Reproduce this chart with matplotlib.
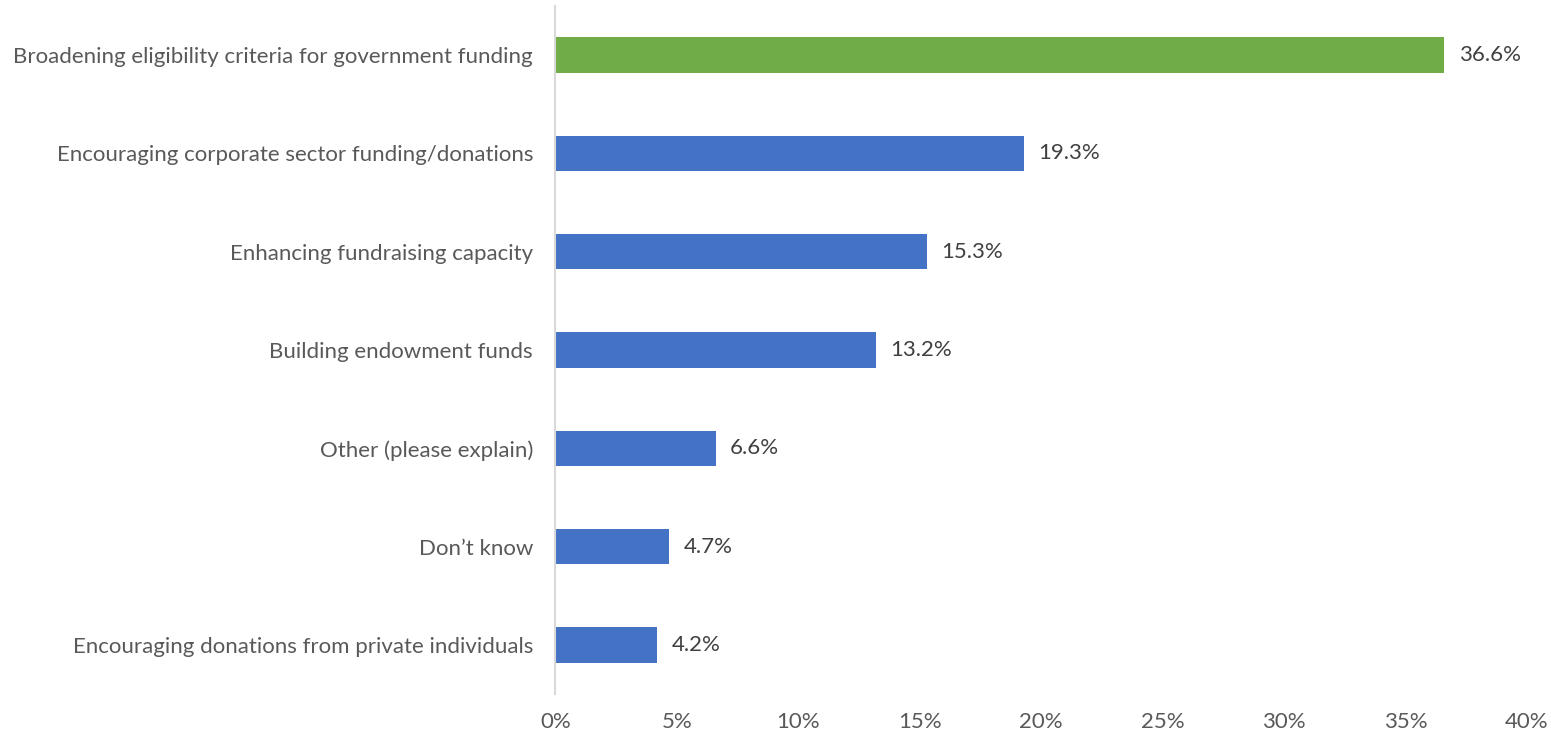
import matplotlib.pyplot as plt

# data, top to bottom as shown
categories = [
    "Broadening eligibility criteria for government funding",
    "Encouraging corporate sector funding/donations",
    "Enhancing fundraising capacity",
    "Building endowment funds",
    "Other (please explain)",
    "Don\u2019t know",
    "Encouraging donations from private individuals",
]
values = [36.6, 19.3, 15.3, 13.2, 6.6, 4.7, 4.2]
bar_colors = ["#70AD47"] + ["#4472C4"] * 6
xticks = [0, 5, 10, 15, 20, 25, 30, 35, 40]

plt.rcParams['font.family'] = ['Lato', 'DejaVu Sans']

fig = plt.figure(figsize=(15.51, 7.35), dpi=100)
ax = fig.add_axes([0.358, 0.0558, 0.6265, 0.936])

ypos = list(range(len(categories)))[::-1]
ax.barh(ypos, values, height=0.36, color=bar_colors)

for y, v in zip(ypos, values):
    ax.text(v + 0.6, y, f"{v:.1f}%", va='center', ha='left', fontsize=16, color='#404040')

ax.set_xlim(0, 40)
ax.set_ylim(-0.5, 6.5)
ax.set_yticks(ypos)
ax.set_yticklabels(categories, fontsize=16, color='#595959')
ax.set_xticks(xticks)
ax.set_xticklabels([f"{t}%" for t in xticks], fontsize=16, color='#595959')

for s in ['top', 'right', 'bottom']:
    ax.spines[s].set_visible(False)
ax.spines['left'].set_color('#D9D9D9')
ax.spines['left'].set_linewidth(1.5)
ax.tick_params(axis='both', length=0)
ax.tick_params(axis='y', pad=16)
ax.tick_params(axis='x', pad=13)

fig.savefig("out.png", dpi=100)
